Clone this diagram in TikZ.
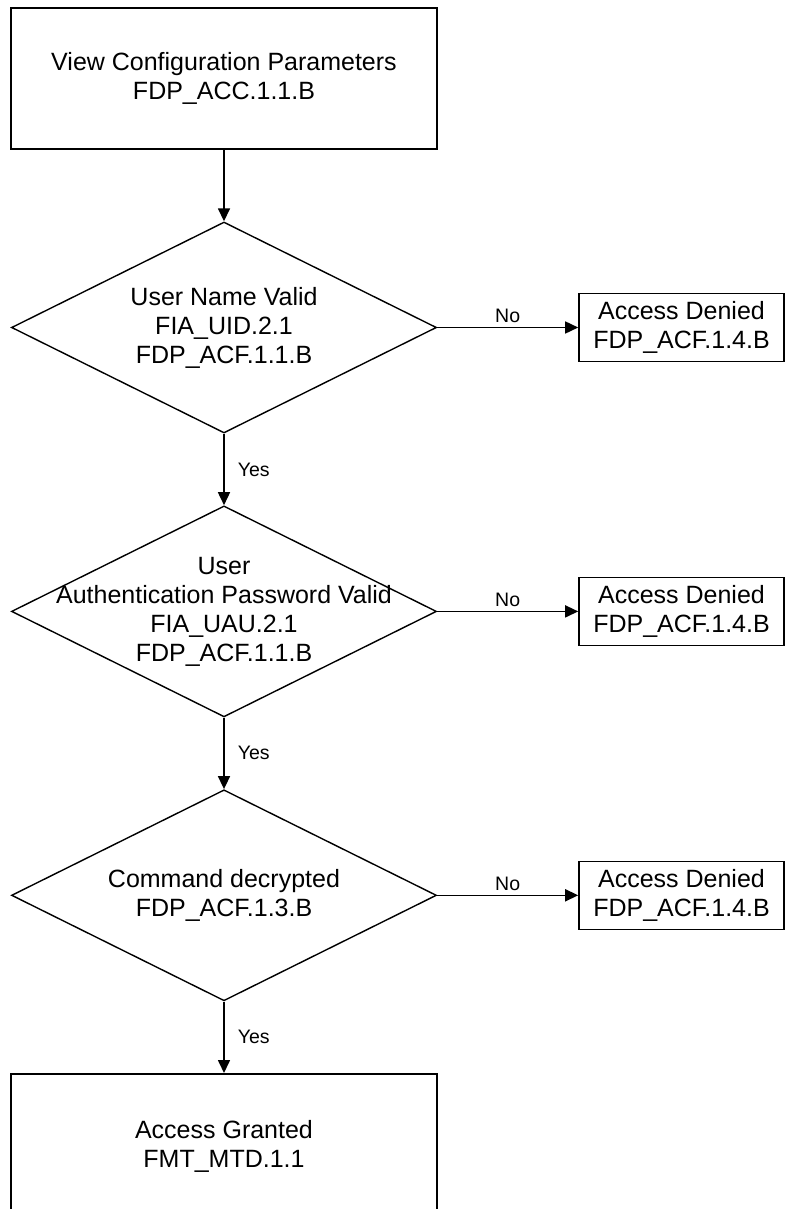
\documentclass[tikz,border=0pt]{standalone}
\usepackage{fontspec}
\setmainfont{Liberation Sans}
\usetikzlibrary{arrows.meta,shapes,positioning}

\begin{document}
\begin{tikzpicture}[node distance=71.5pt,
    every node/.style={font=\fontsize{25}{29}\selectfont},
    procbox/.style={draw, line width=1.6pt, minimum width=426pt, minimum height=141pt, align=center},
    decision/.style={draw, diamond, line width=1.4pt, minimum width=425pt, minimum height=211pt, inner sep=0pt},
    inside/.style={align=center},
    denied/.style={draw, line width=1.6pt, minimum width=205pt, minimum height=68pt, align=center},
    flow/.style={line width=1.6pt, -{Triangle[length=13pt,width=12pt]}},
    answer/.style={font=\fontsize{19.5}{22}\selectfont, inner sep=4pt}]
    \useasboundingbox (0,0) rectangle (784pt,-1209pt);

    \node[procbox] (view) at (224pt,-78.5pt) {View Configuration Parameters\\FDP\_ACC.1.1.B};
    \node[decision, below=of view, label={[inside]center:User Name Valid\\FIA\_UID.2.1\\FDP\_ACF.1.1.B}] (uname) {};
    \node[decision, below=of uname, label={[inside]center:User\\Authentication Password Valid\\FIA\_UAU.2.1\\FDP\_ACF.1.1.B}] (passwd) {};
    \node[decision, below=of passwd, label={[inside]center:Command decrypted\\FDP\_ACF.1.3.B}] (decrypt) {};
    \node[procbox, below=of decrypt, minimum height=146pt] (granted) {Access Granted\\FMT\_MTD.1.1};

    \node[denied, right=141pt of uname] (deny1) {Access Denied\\FDP\_ACF.1.4.B};
    \node[denied, right=141pt of passwd] (deny2) {Access Denied\\FDP\_ACF.1.4.B};
    \node[denied, right=141pt of decrypt] (deny3) {Access Denied\\FDP\_ACF.1.4.B};

    \draw[flow] (view) -- (uname);
    \draw[flow] (uname) -- node[answer, right=9pt] {Yes} (passwd);
    \draw[flow] (passwd) -- node[answer, right=9pt] {Yes} (decrypt);
    \draw[flow] (decrypt) -- node[answer, right=9pt] {Yes} (granted);

    \draw[flow] (uname) -- node[answer, above] {No} (deny1);
    \draw[flow] (passwd) -- node[answer, above] {No} (deny2);
    \draw[flow] (decrypt) -- node[answer, above] {No} (deny3);
\end{tikzpicture}
\end{document}
